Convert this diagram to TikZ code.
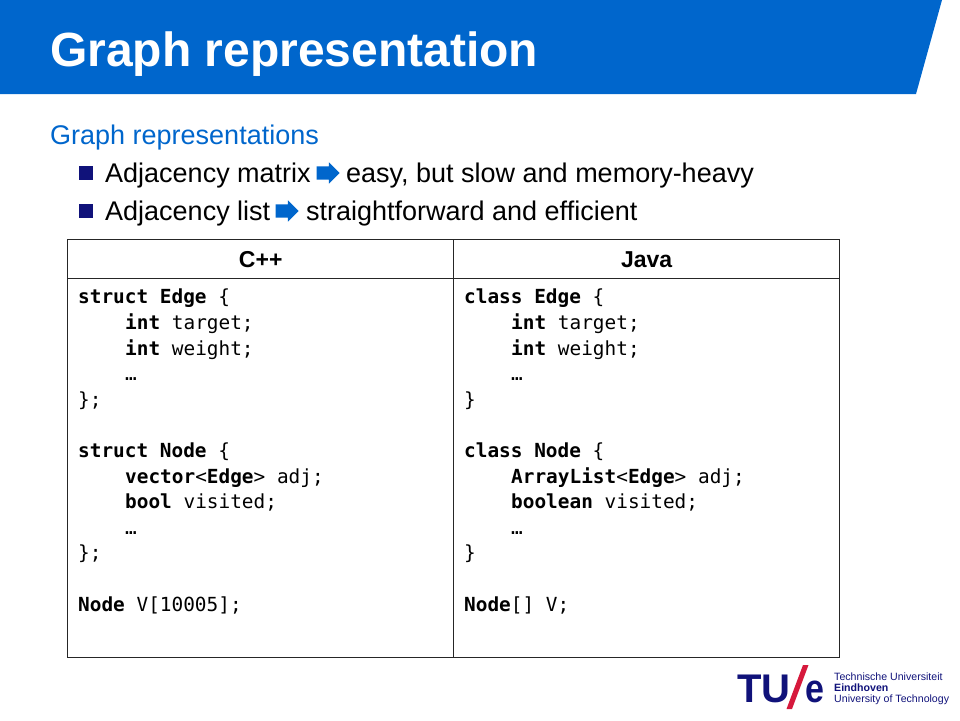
\documentclass[tikz,border=0pt]{standalone}
\usepackage{fontspec}
\setmainfont{Liberation Sans}
\setmonofont{DejaVu Sans Mono}
\usetikzlibrary{positioning,shapes.arrows}
\definecolor{tueblue}{HTML}{0066CC}
\definecolor{tuenavy}{HTML}{10127A}
\definecolor{tuered}{HTML}{D6193C}
\newcommand{\kw}[1]{\textbf{#1}}
\newcommand{\ind}{\hspace*{47pt}}
\tikzset{
	titletext/.style={anchor=base west, inner sep=0pt, white, font=\fontsize{48}{52}\selectfont\bfseries},
	itemtext/.style={inner sep=0pt, text height=23pt, text depth=5pt, font=\fontsize{27}{32}\selectfont},
	bulletbox/.style={fill=tuenavy, minimum size=14pt, inner sep=0pt},
	blockarrow/.style={single arrow, fill=tueblue, inner xsep=0pt, inner ysep=6.5pt, minimum width=21pt, minimum height=23pt, single arrow head extend=4pt, single arrow head indent=0pt},
	headcell/.style={draw=black!85, line width=1pt, outer sep=0pt, inner sep=0pt, minimum width=386pt, minimum height=39pt, text height=17pt, text depth=0pt, font=\fontsize{23}{26}\selectfont\bfseries},
	codecell/.style={draw=black!85, line width=1pt, outer sep=0pt, inner xsep=10pt, inner ysep=2pt, minimum width=386pt, minimum height=379pt, text width=365pt, align=flush left, anchor=north west, font=\fontsize{19.4}{25.6}\selectfont\ttfamily},
	logotext/.style={anchor=north west, inner sep=0pt, align=flush left, tuenavy, font=\fontsize{10.6}{11.2}\selectfont},
	logobig/.style={anchor=base west, inner sep=0pt, tuenavy, font=\fontsize{40}{44}\selectfont\bfseries},
}
\begin{document}
\begin{tikzpicture}[x=1pt, y=-1pt]
	\useasboundingbox (0,0) rectangle (960,720);
	% title band
	\fill[tueblue] (0,0) -- (942,0) -- (916,94) -- (0,94) -- cycle;
	\node[titletext] (title) at (50,66) {Graph representation};
	% bullets
	\node[itemtext, anchor=base west, tueblue] (intro) at (50,144) {Graph representations};
	\node[itemtext, anchor=base west] (itemA) at (105,182) {Adjacency matrix};
	\node[blockarrow, right=5.5pt of itemA] (arrowA) {};
	\node[itemtext, right=6pt of arrowA] (textA) {easy, but slow and memory-heavy};
	\node[bulletbox] (bulletA) at (86,173) {};
	\node[itemtext, anchor=base west] (itemB) at (105,220) {Adjacency list};
	\node[blockarrow, right=5pt of itemB] (arrowB) {};
	\node[itemtext, right=7pt of arrowB] (textB) {straightforward and efficient};
	\node[bulletbox] (bulletB) at (86,211) {};
	% table
	\node[headcell, anchor=north west] (cppHead) at (67.7,239) {C++};
	\node[headcell, right=0pt of cppHead] (javaHead) {Java};
	\node[codecell] (cppCode) at (cppHead.south west) {%
		\kw{struct Edge} \{\\
		\ind\kw{int} target;\\
		\ind\kw{int} weight;\\
		\ind…\\
		\};\\[25.6pt]
		\kw{struct Node} \{\\
		\ind\kw{vector}<\kw{Edge}> adj;\\
		\ind\kw{bool} visited;\\
		\ind…\\
		\};\\[25.6pt]
		\kw{Node} V[10005];\\[9pt]
		\mbox{}};
	\node[codecell] (javaCode) at (javaHead.south west) {%
		\kw{class Edge} \{\\
		\ind\kw{int} target;\\
		\ind\kw{int} weight;\\
		\ind…\\
		\}\\[25.6pt]
		\kw{class Node} \{\\
		\ind\kw{ArrayList}<\kw{Edge}> adj;\\
		\ind\kw{boolean} visited;\\
		\ind…\\
		\}\\[25.6pt]
		\kw{Node}[] V;\\[9pt]
		\mbox{}};
	% logo
	\node[logobig] (logoTU) at (737,702) {TU};
	\fill[tuered] (803,665) -- (808.5,665) -- (792,709) -- (786.5,709) -- cycle;
	\node[logobig, xscale=0.85] (logoE) at (805,702) {e};
	\node[logotext] (logoName) at (834,672.5) {Technische Universiteit\\ \textbf{Eindhoven}\\ University of Technology};
\end{tikzpicture}
\end{document}
